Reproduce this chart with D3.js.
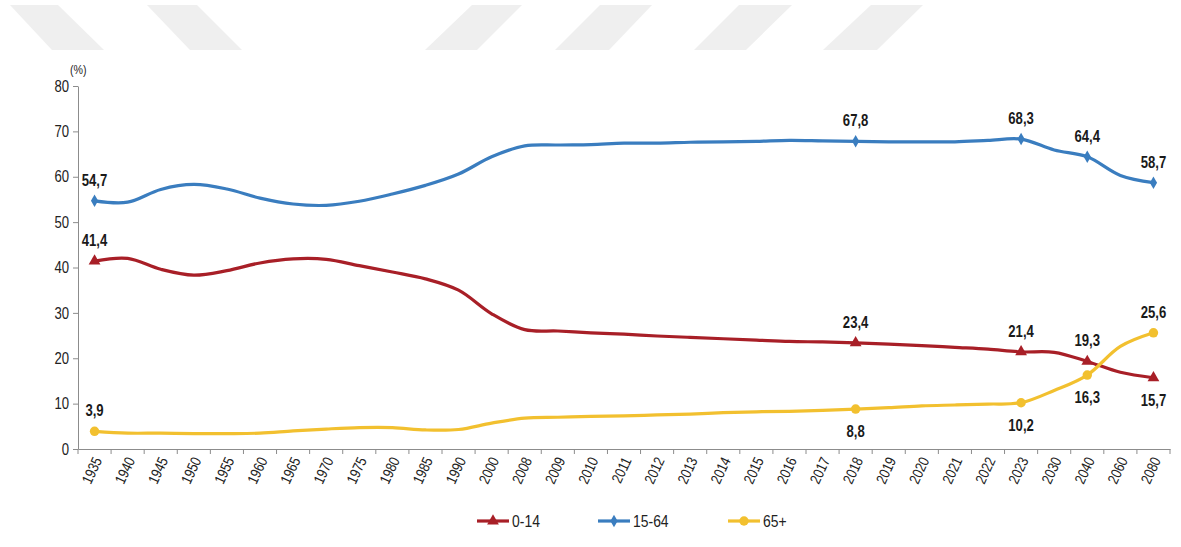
<!DOCTYPE html>
<html>
<head>
<meta charset="utf-8">
<script src="https://cdn.jsdelivr.net/npm/d3@7"></script>
<style>
  body { margin: 0; background: #fff; }
  svg text { font-family: "Liberation Sans", Arial, sans-serif; }
</style>
</head>
<body>
<svg id="chart" width="1181" height="547"></svg>
<script>
// categories (x axis)
const years = ['1935', '1940', '1945', '1950', '1955', '1960', '1965', '1970', '1975', '1980', '1985', '1990',
  '2000', '2008', '2009', '2010', '2011', '2012', '2013', '2014', '2015', '2016', '2017', '2018', '2019',
  '2020', '2021', '2022', '2023', '2030', '2040', '2060', '2080'];

// age group shares, %
const age0to14 = [41.4, 42.0, 39.6, 38.3, 39.3, 41.0, 41.9, 41.8, 40.4, 39.0, 37.5, 35.0,
  29.8, 26.3, 26.0, 25.6, 25.3, 24.9, 24.6, 24.3, 24.0, 23.7, 23.6, 23.4, 23.1,
  22.8, 22.4, 22.0, 21.4, 21.3, 19.3, 16.9, 15.7];
const age15to64 = [54.7, 54.4, 57.2, 58.3, 57.3, 55.3, 54.0, 53.7, 54.6, 56.2, 58.1, 60.6,
  64.4, 66.8, 67.0, 67.1, 67.4, 67.4, 67.6, 67.7, 67.8, 68.0, 67.9, 67.8, 67.7,
  67.7, 67.7, 68.0, 68.3, 65.9, 64.4, 60.3, 58.7];
const age65plus = [3.9, 3.5, 3.5, 3.4, 3.4, 3.5, 4.0, 4.4, 4.7, 4.7, 4.2, 4.3,
  5.7, 6.8, 7.0, 7.2, 7.3, 7.5, 7.7, 8.0, 8.2, 8.3, 8.5, 8.8, 9.1,
  9.5, 9.7, 9.9, 10.2, 12.9, 16.3, 22.6, 25.6];

const yTicks = [0, 10, 20, 30, 40, 50, 60, 70, 80];
const labelledYears = ['1935', '2018', '2023', '2040', '2080'];

const series = [
  { name: '0-14', values: age0to14, color: '#a81f27', symbol: d3.symbolTriangle, size: 60,
    below: ['2080'] },
  { name: '15-64', values: age15to64, color: '#3a7dbf', symbol: d3.symbolDiamond, size: 45,
    below: [] },
  { name: '65+', values: age65plus, color: '#f2c02f', symbol: d3.symbolCircle, size: 70,
    below: ['2018', '2023', '2040'] }
];

// no narrow font installed, so squeeze the regular one
const narrow = 'scale(0.82,1)';

const svg = d3.select('#chart');

// faint header stripes
const stripes = [
  [[10, 5], [58, 5], [104, 50], [52, 50]],
  [[147, 5], [197, 5], [242, 50], [190, 50]],
  [[472, 5], [522, 5], [477, 50], [425, 50]],
  [[600, 5], [652, 5], [609, 50], [555, 50]],
  [[739, 5], [792, 5], [746, 50], [694, 50]],
  [[871, 5], [923, 5], [877, 50], [823, 50]]
];
svg.append('g').selectAll('polygon').data(stripes).enter().append('polygon')
  .attr('points', d => d.map(p => p.join(',')).join(' '))
  .attr('fill', '#efefef');

const x = d3.scaleBand().domain(years).range([78, 1170]);
const cx = d => x(d) + x.bandwidth() / 2;
const y = d3.scaleLinear().domain([0, 80]).range([449, 86]);

// y axis
const yAxis = svg.append('g')
  .attr('transform', 'translate(78,0)')
  .call(d3.axisLeft(y).tickValues(yTicks).tickSize(5).tickPadding(5).tickSizeOuter(0));
yAxis.select('.domain').attr('stroke', '#8c8c8c');
yAxis.selectAll('line').attr('stroke', '#8c8c8c');
yAxis.selectAll('text').attr('font-size', 16).attr('fill', '#222')
  .attr('x', 0).attr('transform', 'translate(-9,0) ' + narrow);

svg.append('text').attr('transform', 'translate(70,74) ' + narrow)
  .attr('font-size', 13).attr('fill', '#222').text('(%)');

// x axis
const xAxis = svg.append('g')
  .attr('transform', 'translate(0,449)')
  .call(d3.axisBottom(x).tickSize(0).tickSizeOuter(0));
xAxis.select('.domain').attr('stroke', '#8c8c8c');
xAxis.selectAll('text')
  .attr('x', 0).attr('y', 0).attr('dy', '0.35em')
  .attr('transform', 'translate(3,9) rotate(-65) ' + narrow)
  .attr('text-anchor', 'end')
  .attr('font-size', 15).attr('fill', '#222');

// tick marks on band boundaries
svg.append('g').selectAll('line').data(years.concat(['end'])).enter().append('line')
  .attr('x1', (d, i) => i < years.length ? x(d) : x.range()[1])
  .attr('x2', (d, i) => i < years.length ? x(d) : x.range()[1])
  .attr('y1', 449).attr('y2', 454)
  .attr('stroke', '#8c8c8c');

// lines
const line = d3.line()
  .x((d, i) => cx(years[i]))
  .y(d => y(d))
  .curve(d3.curveCatmullRom.alpha(0.5));

series.forEach(s => {
  svg.append('path')
    .datum(s.values)
    .attr('d', line)
    .attr('fill', 'none')
    .attr('stroke', s.color)
    .attr('stroke-width', 3.2);

  const pts = labelledYears.map(yr => ({ yr, v: s.values[years.indexOf(yr)] }));

  svg.append('g').selectAll('path').data(pts).enter().append('path')
    .attr('d', d3.symbol().type(s.symbol).size(s.size))
    .attr('transform', d => `translate(${cx(d.yr)},${y(d.v)})`)
    .attr('fill', s.color);

  svg.append('g').selectAll('text').data(pts).enter().append('text')
    .attr('transform', d => `translate(${cx(d.yr)},${s.below.includes(d.yr) ? y(d.v) + 28 : y(d.v) - 15}) ` + narrow)
    .attr('text-anchor', 'middle')
    .attr('font-size', 16).attr('font-weight', 'bold').attr('fill', '#1a1a1a')
    .text(d => d.v.toFixed(1).replace('.', ','));
});

// legend
const legendX = [477, 598, 728];
const legend = svg.append('g').selectAll('g').data(series).enter().append('g')
  .attr('transform', (d, i) => `translate(${legendX[i]},521)`);
legend.append('line').attr('x1', 0).attr('x2', 32).attr('y1', 0).attr('y2', 0)
  .attr('stroke', d => d.color).attr('stroke-width', 3.2);
legend.append('path')
  .attr('d', d => d3.symbol().type(d.symbol).size(d.size)())
  .attr('transform', 'translate(16,0)')
  .attr('fill', d => d.color);
legend.append('text').attr('transform', 'translate(35,6) ' + narrow)
  .attr('font-size', 17).attr('fill', '#222')
  .text(d => d.name);
</script>
</body>
</html>
